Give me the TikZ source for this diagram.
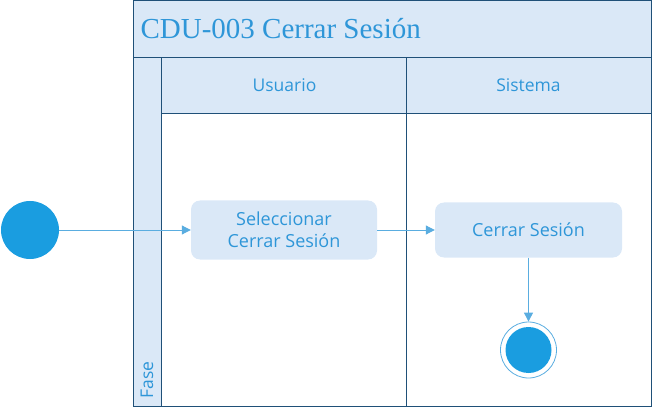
\documentclass[tikz,border=0pt]{standalone}
\usepackage{fontspec}
\setmainfont{Liberation Serif}
\setsansfont{Open Sans}
\usetikzlibrary{arrows.meta}
\definecolor{fondo}{HTML}{DAE8F7}
\definecolor{borde}{HTML}{1F5078}
\definecolor{texto}{HTML}{2E96D8}
\definecolor{punto}{HTML}{1A9DE0}
\definecolor{flecha}{HTML}{5AADE0}

\begin{document}
\begin{tikzpicture}[x=1pt,y=-1pt,
    carril/.style={draw=borde,fill=fondo,line width=1pt},
    rotulo/.style={text=texto,font=\sffamily\fontsize{17.5}{20}\selectfont},
    accion/.style={fill=fondo,rounded corners=9pt,text=texto,align=center,
      font=\sffamily\fontsize{18}{22}\selectfont,inner sep=0pt},
    flujo/.style={draw=flecha,line width=1pt,-{Triangle[length=9pt,width=9pt]}}]
  \useasboundingbox (0,0) rectangle (653,414) ;
  % marco y carriles
  \draw[carril] (133,1) rectangle (651,58) ;
  \draw[carril] (133,58) rectangle (161,406) ;
  \draw[carril] (161,58) rectangle (406,114) ;
  \draw[carril] (406,58) rectangle (651,114) ;
  \draw[borde,line width=1pt] (161,114) rectangle (406,406) ;
  \draw[borde,line width=1pt] (406,114) rectangle (651,406) ;
  \node[anchor=west,text=texto,font=\fontsize{29}{32}\selectfont] %
    (titulo) at (137,29) {CDU-003 Cerrar Sesión} ;
  \node[rotulo] (usuario) at (284.5,85) {Usuario} ;
  \node[rotulo] (sistema) at (528.5,85) {Sistema} ;
  \node[rotulo,rotate=90,anchor=west] (fase) at (147,402) {Fase} ;
  % nodos
  \node[circle,fill=punto,minimum size=58pt,inner sep=0pt] (inicio) at (30,230) {} ;
  \node[accion,minimum width=186pt,minimum height=59pt] %
    (seleccionar) at (284,230) {Seleccionar\\Cerrar Sesión} ;
  \node[accion,minimum width=187pt,minimum height=55pt] %
    (cerrar) at (528.5,230) {Cerrar Sesión} ;
  \node[circle,draw=flecha,line width=0.8pt,minimum size=56pt,inner sep=0pt] %
    (fin) at (528.5,350) {} ;
  \fill[punto] (fin) circle (23) ;
  % flujo
  \draw[flujo] (inicio) -- (seleccionar) ;
  \draw[flujo] (seleccionar) -- (cerrar) ;
  \draw[flujo] (cerrar) -- (fin) ;
\end{tikzpicture}
\end{document}
